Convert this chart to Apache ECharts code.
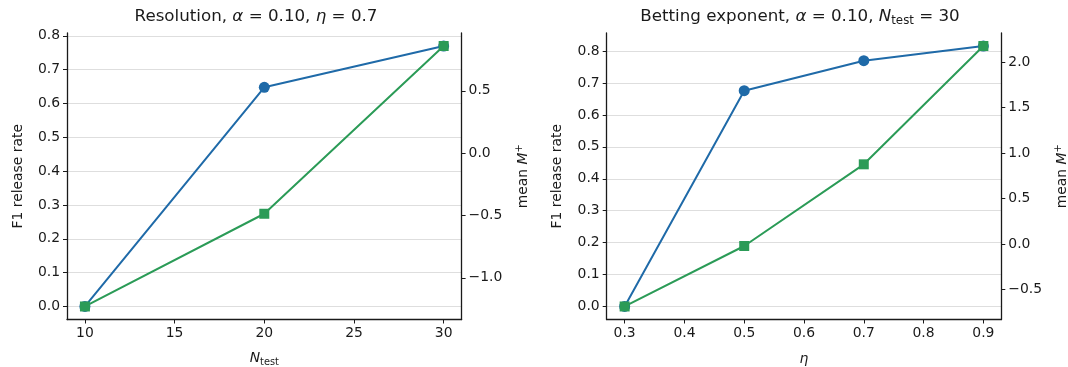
<!DOCTYPE html>
<html>
<head>
<meta charset="utf-8">
<script src="https://cdn.jsdelivr.net/npm/echarts@6/dist/echarts.min.js"></script>
<style>
  html, body { margin: 0; padding: 0; background: #fff; }
  #chart { width: 1068px; height: 367px; }
</style>
</head>
<body>
<div id="chart"></div>
<script>
// Panel 1: resolution sweep over N_test
const nTest = [10, 20, 30];
const f1RateByN = [0.0, 0.648, 0.77];
const meanMByN = [-1.23, -0.486, 0.86];

// Panel 2: betting exponent sweep over eta
const eta = [0.3, 0.5, 0.7, 0.9];
const f1RateByEta = [0.0, 0.676, 0.77, 0.816];
const meanMByEta = [-0.684, -0.02, 0.877, 2.176];

// Tick labels
const nTicks = [10, 15, 20, 25, 30];
const etaTicks = [0.3, 0.4, 0.5, 0.6, 0.7, 0.8, 0.9];
const rateTicks = [0.0, 0.1, 0.2, 0.3, 0.4, 0.5, 0.6, 0.7, 0.8];
const mTicksA = [-1.0, -0.5, 0.0, 0.5];
const mTicksB = [-0.5, 0.0, 0.5, 1.0, 1.5, 2.0];

const FONT = 'DejaVu Sans';
const INK = '#1a1a1a';
const BLUE = '#1f6aa8';
const GREEN = '#2b9b57';

// 5% padding around the data extent
function padded(arr) {
  const lo = Math.min(...arr), hi = Math.max(...arr);
  const m = (hi - lo) * 0.05;
  return { min: lo - m, max: hi + m };
}

const fmt1 = v => v.toFixed(1).replace('-', '\u2212');
const fmt0 = v => String(Math.round(v));

const rich = {
  n: { fontFamily: FONT, fontSize: 16.7, fontWeight: 'normal', color: INK },
  i: { fontFamily: FONT, fontSize: 16.7, fontWeight: 'normal', fontStyle: 'italic', color: INK },
  sub: { fontFamily: FONT, fontSize: 11.8, fontWeight: 'normal', color: INK, padding: [9, 0, 0, 0] }
};
const axRich = {
  i: { fontFamily: FONT, fontSize: 13.9, fontStyle: 'italic', color: INK },
  sub: { fontFamily: FONT, fontSize: 9.8, color: INK, padding: [8, 0, 0, 0] },
  sup: { fontFamily: FONT, fontSize: 9.8, color: INK, padding: [0, 0, 8, 0] },
  n: { fontFamily: FONT, fontSize: 13.9, color: INK }
};

function xAxisDef(grid, range, ticks, fmt, name, gap) {
  return {
    type: 'value', gridIndex: grid, min: range.min, max: range.max,
    axisLine: { show: true, onZero: false, lineStyle: { color: INK, width: 1.3 } },
    axisTick: { show: true, length: 4, customValues: ticks, lineStyle: { color: INK, width: 1 } },
    axisLabel: { customValues: ticks, formatter: fmt, fontFamily: FONT, fontSize: 13.9, color: INK, margin: 7 },
    splitLine: { show: false },
    name: name, nameLocation: 'middle', nameGap: gap,
    nameTextStyle: { rich: axRich, fontFamily: FONT, fontSize: 13.9, color: INK }
  };
}

function yAxisDef(grid, pos, range, ticks, name, gap, grids) {
  return {
    type: 'value', gridIndex: grid, position: pos, min: range.min, max: range.max,
    axisLine: { show: true, onZero: false, lineStyle: { color: INK, width: 1.3 } },
    axisTick: { show: true, length: 4, customValues: ticks, lineStyle: { color: INK, width: 1 } },
    axisLabel: { customValues: ticks, formatter: fmt1, fontFamily: FONT, fontSize: 13.9, color: INK, margin: 7 },
    splitLine: { show: grids, lineStyle: { color: '#dedede', width: 1 } },
    name: name, nameLocation: 'middle', nameGap: gap, nameRotate: 90,
    nameTextStyle: { rich: axRich, fontFamily: FONT, fontSize: 13.9, color: INK }
  };
}

function pairs(xs, ys) { return xs.map((x, k) => [x, ys[k]]); }

const option = {
  animation: false,
  backgroundColor: '#fff',
  title: [
    { text: '{n|Resolution, }{i|α}{n| = 0.10, }{i|η}{n| = 0.7}', left: 256, top: 8, textAlign: 'center',
      padding: 0, textStyle: { rich: rich, fontWeight: 'normal' } },
    { text: '{n|Betting exponent, }{i|α}{n| = 0.10, }{i|N}{sub|test}{n| = 30}', left: 800, top: 6, textAlign: 'center',
      padding: 0, textStyle: { rich: rich, fontWeight: 'normal' } }
  ],
  grid: [
    { left: 67, top: 33, width: 394.6, height: 286.5, outerBoundsMode: 'none', containLabel: false },
    { left: 606.7, top: 33, width: 394.6, height: 286.5, outerBoundsMode: 'none', containLabel: false }
  ],
  xAxis: [
    xAxisDef(0, padded(nTest), nTicks, fmt0, '{i|N}{sub|test}', 30),
    xAxisDef(1, padded(eta), etaTicks, fmt1, '{i|η}', 33)
  ],
  yAxis: [
    yAxisDef(0, 'left', padded(f1RateByN), rateTicks, 'F1 release rate', 42, true),
    yAxisDef(0, 'right', padded(meanMByN), mTicksA, '{n|mean }{i|M}{sup|+}', 53, false),
    yAxisDef(1, 'left', padded(f1RateByEta), rateTicks, 'F1 release rate', 42, true),
    yAxisDef(1, 'right', padded(meanMByEta), mTicksB, '{n|mean }{i|M}{sup|+}', 52, false)
  ],
  series: [
    { type: 'line', xAxisIndex: 0, yAxisIndex: 0, data: pairs(nTest, f1RateByN),
      symbol: 'circle', symbolSize: 11, lineStyle: { color: BLUE, width: 2 }, itemStyle: { color: BLUE }, z: 2 },
    { type: 'line', xAxisIndex: 0, yAxisIndex: 1, data: pairs(nTest, meanMByN),
      symbol: 'rect', symbolSize: 10, lineStyle: { color: GREEN, width: 2 }, itemStyle: { color: GREEN }, z: 3 },
    { type: 'line', xAxisIndex: 1, yAxisIndex: 2, data: pairs(eta, f1RateByEta),
      symbol: 'circle', symbolSize: 11, lineStyle: { color: BLUE, width: 2 }, itemStyle: { color: BLUE }, z: 2 },
    { type: 'line', xAxisIndex: 1, yAxisIndex: 3, data: pairs(eta, meanMByEta),
      symbol: 'rect', symbolSize: 10, lineStyle: { color: GREEN, width: 2 }, itemStyle: { color: GREEN }, z: 3 }
  ]
};

const chart = echarts.init(document.getElementById('chart'), null, { renderer: 'canvas' });
chart.setOption(option);
</script>
</body>
</html>
